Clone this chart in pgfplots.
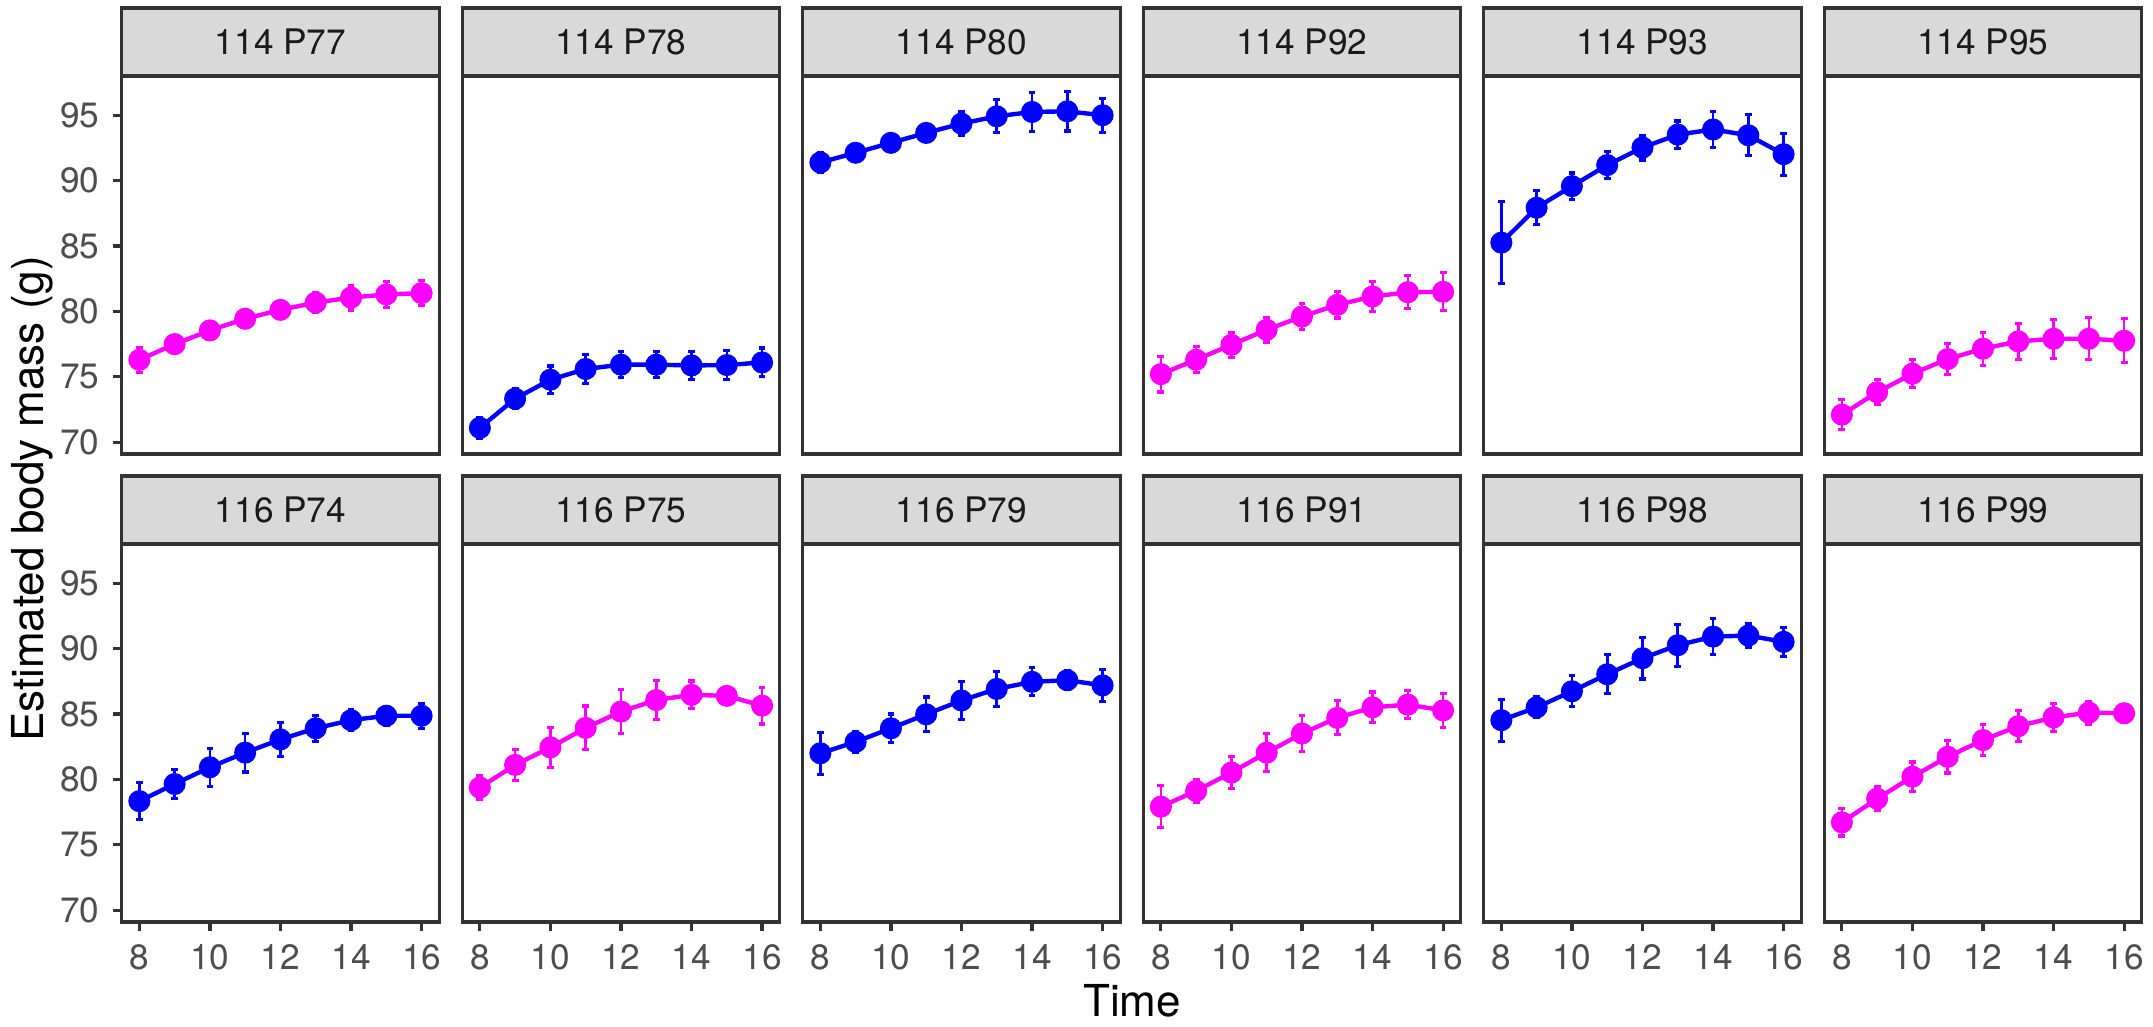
\documentclass[border=0pt]{standalone}
\usepackage{fontspec}
\setmainfont{TeX Gyre Heros}
\usepackage{pgfplots}
\pgfplotsset{compat=1.18}
\definecolor{cblue}{HTML}{0000FF}
\definecolor{cmag}{HTML}{FF00FF}
\definecolor{stripfill}{HTML}{D9D9D9}
\definecolor{g20}{HTML}{333333}
\definecolor{g30}{HTML}{4D4D4D}
\definecolor{g10}{HTML}{1A1A1A}
\pgfplotsset{
  panel/.style={
    width=79.375bp, height=94.5bp, scale only axis,
    anchor=north west,
    xmin=7.5, xmax=16.5, ymin=69.1, ymax=98.0,
    xtick={8,10,12,14,16}, ytick={70,75,80,85,90,95},
    axis line style={g20, line width=0.8bp},
    tick style={g20, line width=0.8bp},
    major tick length=2.25bp,
    tick align=outside,
    tick pos=left,
    ticklabel style={font=\fontsize{8.8bp}{10bp}\selectfont, text=g30},
    /pgf/number format/assume math mode=true,
    xticklabel style={anchor=north, inner sep=0pt, yshift=-3.1bp},
    yticklabel style={anchor=east, inner sep=0pt, xshift=-3.1bp},
    clip=false,
  },
  series/.style={
    color=#1, line width=1.1bp, mark=*, mark size=2.2bp,
    error bars/.cd, y dir=both, y explicit,
    error bar style={line width=0.65bp, color=#1},
    error mark options={rotate=90, mark size=0.85bp, line width=0.8bp, color=#1},
  },
}
% #1 col, #2 row, #3 title, #4 colour, #5 extra axis options, #6 coordinates
\newcommand{\panel}[6]{%
\begin{axis}[panel, at={(30.425bp+#1*85.125bp, -19bp-#2*117bp)}, #5]
\addplot[series=#4] coordinates {#6};
\draw[g20, line width=0.8bp, fill=stripfill] (rel axis cs:0,1) rectangle ([yshift=17bp]rel axis cs:1,1);
\node[font=\fontsize{8.8bp}{10bp}\selectfont, text=g10, inner sep=0pt] at ([yshift=8.5bp]rel axis cs:0.5,1) {#3};
\end{axis}}
\begin{document}
\begin{tikzpicture}
\path[use as bounding box] (0,0) rectangle (538.25bp,-256.75bp);
% row 1
\panel{0}{0}{114 P77}{cmag}{xtick=\empty}{
(8,76.3) +- (0,0.95) (9,77.5) +- (0,0.45) (10,78.55) +- (0,0.6) (11,79.44) +- (0,0.55) (12,80.12) +- (0,0.55)
(13,80.68) +- (0,0.75) (14,81.06) +- (0,0.95) (15,81.3) +- (0,1.0) (16,81.4) +- (0,0.95)}
\panel{1}{0}{114 P78}{cblue}{xtick=\empty, ytick=\empty}{
(8,71.1) +- (0,0.8) (9,73.33) +- (0,0.75) (10,74.78) +- (0,1.05) (11,75.6) +- (0,1.1) (12,75.93) +- (0,1.0)
(13,75.93) +- (0,1.0) (14,75.87) +- (0,1.05) (15,75.9) +- (0,1.1) (16,76.1) +- (0,1.1)}
\panel{2}{0}{114 P80}{cblue}{xtick=\empty, ytick=\empty}{
(8,91.39) +- (0,0.75) (9,92.13) +- (0,0.35) (10,92.89) +- (0,0.35) (11,93.65) +- (0,0.35) (12,94.36) +- (0,0.9)
(13,94.92) +- (0,1.27) (14,95.25) +- (0,1.5) (15,95.3) +- (0,1.5) (16,95.0) +- (0,1.3)}
\panel{3}{0}{114 P92}{cmag}{xtick=\empty, ytick=\empty}{
(8,75.21) +- (0,1.37) (9,76.31) +- (0,1.0) (10,77.45) +- (0,0.95) (11,78.6) +- (0,0.93) (12,79.61) +- (0,1.0)
(13,80.5) +- (0,1.0) (14,81.14) +- (0,1.15) (15,81.47) +- (0,1.25) (16,81.5) +- (0,1.45)}
\panel{4}{0}{114 P93}{cblue}{xtick=\empty, ytick=\empty}{
(8,85.26) +- (0,3.14) (9,87.93) +- (0,1.3) (10,89.58) +- (0,1.0) (11,91.19) +- (0,1.05) (12,92.53) +- (0,0.95)
(13,93.52) +- (0,1.04) (14,93.91) +- (0,1.39) (15,93.47) +- (0,1.56) (16,92.02) +- (0,1.6)}
\panel{5}{0}{114 P95}{cmag}{xtick=\empty, ytick=\empty}{
(8,72.11) +- (0,1.14) (9,73.82) +- (0,0.95) (10,75.24) +- (0,1.08) (11,76.36) +- (0,1.17) (12,77.15) +- (0,1.26)
(13,77.71) +- (0,1.36) (14,77.91) +- (0,1.5) (15,77.91) +- (0,1.6) (16,77.76) +- (0,1.69)}
% row 2
\panel{0}{1}{116 P74}{cblue}{}{
(8,78.34) +- (0,1.43) (9,79.65) +- (0,1.13) (10,80.93) +- (0,1.44) (11,82.05) +- (0,1.48) (12,83.06) +- (0,1.28)
(13,83.91) +- (0,1.0) (14,84.53) +- (0,0.8) (15,84.87) +- (0,0.73) (16,84.87) +- (0,0.96)}
\panel{1}{1}{116 P75}{cmag}{ytick=\empty}{
(8,79.38) +- (0,0.9) (9,81.11) +- (0,1.16) (10,82.45) +- (0,1.55) (11,83.94) +- (0,1.67) (12,85.19) +- (0,1.67)
(13,86.07) +- (0,1.47) (14,86.47) +- (0,1.05) (15,86.39) +- (0,0.3) (16,85.64) +- (0,1.4)}
\panel{2}{1}{116 P79}{cblue}{ytick=\empty}{
(8,82.0) +- (0,1.6) (9,82.87) +- (0,0.8) (10,83.91) +- (0,1.09) (11,84.98) +- (0,1.33) (12,86.04) +- (0,1.43)
(13,86.92) +- (0,1.36) (14,87.46) +- (0,1.07) (15,87.59) +- (0,0.73) (16,87.19) +- (0,1.23)}
\panel{3}{1}{116 P91}{cmag}{ytick=\empty}{
(8,77.92) +- (0,1.6) (9,79.12) +- (0,0.9) (10,80.53) +- (0,1.24) (11,82.05) +- (0,1.47) (12,83.51) +- (0,1.39)
(13,84.71) +- (0,1.3) (14,85.51) +- (0,1.17) (15,85.72) +- (0,1.07) (16,85.28) +- (0,1.3)}
\panel{4}{1}{116 P98}{cblue}{ytick=\empty}{
(8,84.53) +- (0,1.6) (9,85.51) +- (0,0.8) (10,86.74) +- (0,1.19) (11,88.04) +- (0,1.49) (12,89.27) +- (0,1.59)
(13,90.26) +- (0,1.6) (14,90.92) +- (0,1.37) (15,91.0) +- (0,0.9) (16,90.52) +- (0,1.09)}
\panel{5}{1}{116 P99}{cmag}{ytick=\empty}{
(8,76.72) +- (0,1.05) (9,78.53) +- (0,0.93) (10,80.21) +- (0,1.13) (11,81.73) +- (0,1.23) (12,83.01) +- (0,1.2)
(13,84.07) +- (0,1.19) (14,84.74) +- (0,1.07) (15,85.11) +- (0,0.87) (16,85.06) +- (0,0.7)}
% axis titles
\node[rotate=90, anchor=base, font=\fontsize{11bp}{13bp}\selectfont, inner sep=0pt] at (10.9bp,-124.75bp) {Estimated body mass (g)};
\node[anchor=base, font=\fontsize{11bp}{13bp}\selectfont, inner sep=0pt] at (283bp,-254.15bp) {Time};
\end{tikzpicture}
\end{document}
